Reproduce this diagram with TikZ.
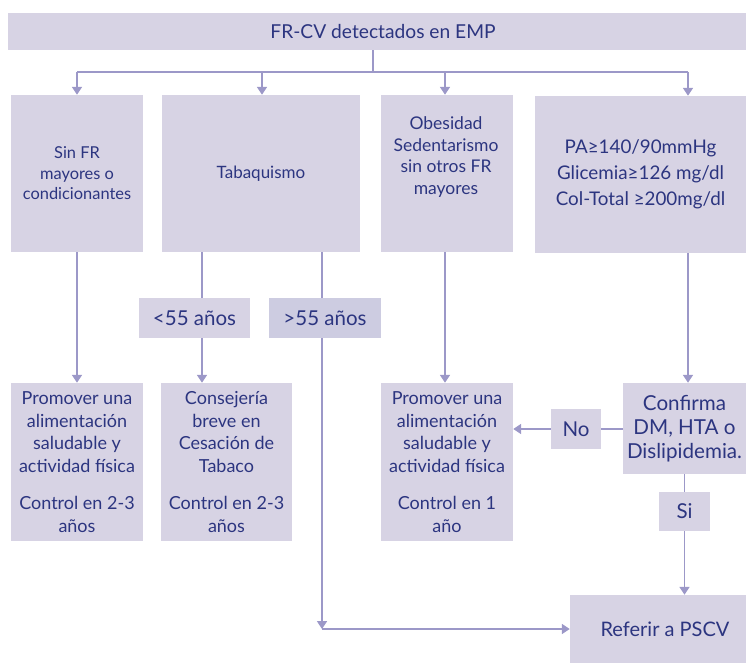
\documentclass[tikz,border=0pt]{standalone}
\usepackage{fontspec}
\setmainfont{Lato}
\usetikzlibrary{arrows.meta}
\definecolor{boxfill}{HTML}{D7D3E4}
\definecolor{boxfilldark}{HTML}{CDCCE1}
\definecolor{ink}{HTML}{2C3580}
\definecolor{wire}{HTML}{9C98C8}
\tikzset{
  box/.style={fill=boxfill, inner sep=0pt, align=center, text=ink},
  txt/.style={inner sep=0pt, align=center, text=ink},
  wireline/.style={draw=wire, line width=1.7pt},
  arr/.style={wireline, -{Triangle[width=10pt,length=8pt]}},
  fbody/.style={font=\fontsize{18}{22.5}\selectfont},
  flabel/.style={font=\fontsize{20.5}{24}\selectfont},
}
\begin{document}
\begin{tikzpicture}[x=1pt,y=-1pt]
\useasboundingbox (0,0) rectangle (746,663);

% boxes
\node[box, font=\fontsize{19.2}{24}\selectfont, minimum width=750, minimum height=37] (top) at (383,31.5) {FR-CV detectados en EMP};
\node[box, font=\fontsize{16.4}{20.5}\selectfont, minimum width=132, minimum height=157] (a) at (77,173.5) {Sin FR\\mayores o\\condicionantes};
\node[box, font=\fontsize{17}{22}\selectfont, minimum width=198, minimum height=157] (b) at (261,173.5) {Tabaquismo};
\node[box, minimum width=132, minimum height=157] (c) at (447,173.5) {};
\node[txt, font=\fontsize{17.5}{21.5}\selectfont] (ctext) at (446,157) {Obesidad\\Sedentarismo\\sin otros FR\\mayores};
\node[box, font=\fontsize{18.8}{26}\selectfont, minimum width=211, minimum height=157] (d) at (640.5,174.5) {PA≥140/90mmHg\\Glicemia≥126 mg/dl\\Col-Total ≥200mg/dl};

\node[box, flabel, minimum width=111, minimum height=40] (lt55) at (194.5,318) {<55 años};
\node[box, flabel, fill=boxfilldark, minimum width=112, minimum height=40] (gt55) at (325,318) {>55 años};

\node[box, fbody, minimum width=132, minimum height=158] (e) at (77,462) {Promover una\\alimentación\\saludable y\\actividad física\\[15pt]Control en 2-3\\años};
\node[box, fbody, minimum width=131, minimum height=158] (f) at (226.5,462) {Consejería\\breve en\\Cesación de\\Tabaco\\[15pt]Control en 2-3\\años};
\node[box, fbody, minimum width=132, minimum height=158] (g) at (447,462) {Promover una\\alimentación\\saludable y\\actividad física\\[15pt]Control en 1\\año};
\node[box, font=\fontsize{20.6}{24}\selectfont, minimum width=123, minimum height=91] (h) at (684.5,428.5) {Confirma\\DM, HTA o\\Dislipidemia.};
\node[box, flabel, minimum width=50, minimum height=40] (no) at (576,429) {No};
\node[box, flabel, minimum width=51, minimum height=39] (si) at (684.5,511.5) {Si};
\node[box, font=\fontsize{20}{24}\selectfont, minimum width=190, minimum height=68] (ref) at (665,629) {Referir a PSCV};

% branch points
\coordinate (hub) at (373,72);
\coordinate (colA) at (77,0);
\coordinate (colB) at (262,0);
\coordinate (colC) at (445,0);
\coordinate (colD) at (688,0);
\coordinate (young) at (202,0);
\coordinate (old) at (322,0);
\coordinate (corner) at (322,629);

% connectors from the top box
\draw[wireline] (top.south -| hub) -- (hub);
\draw[wireline] (hub -| colA) -- (hub -| colD);
\draw[arr] (hub -| colA) -- (a.north -| colA);
\draw[arr] (hub -| colB) -- (b.north -| colB);
\draw[arr] (hub -| colC) -- (c.north -| colC);
\draw[arr] (hub -| colD) -- (d.north -| colD);

% first column
\draw[arr] (a.south) -- (e.north);

% smoking branch
\draw[wireline] (b.south -| young) -- (lt55.north -| young);
\draw[arr] (lt55.south -| young) -- (f.north -| young);
\draw[wireline] (b.south -| old) -- (gt55.north -| old);
\draw[arr] (gt55.south -| old) -- (corner);
\draw[arr] (corner) -- (ref.west);

% obesity branch
\draw[arr] (c.south -| colC) -- (g.north -| colC);

% risk values branch
\draw[arr] (d.south -| colD) -- (h.north -| colD);
\draw[wireline] (h.west |- no.east) -- (no.east);
\draw[arr] (no.west) -- (g.east |- no.west);
\draw[wireline] (h.south -| si) -- (si.north);
\draw[arr] (si.south) -- (ref.north -| si);
\end{tikzpicture}
\end{document}
